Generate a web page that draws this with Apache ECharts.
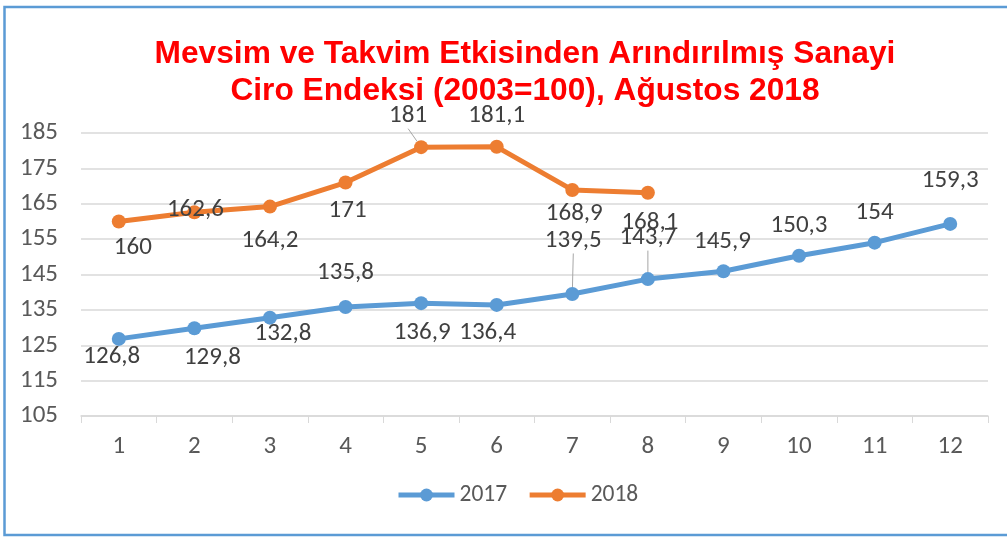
<!DOCTYPE html>
<html>
<head>
<meta charset="utf-8">
<script src="https://cdn.jsdelivr.net/npm/echarts@6/dist/echarts.min.js"></script>
<style>
  html, body { margin: 0; padding: 0; background: #fff; }
  #chart { width: 1007px; height: 537px; }
</style>
</head>
<body>
<div id="chart"></div>
<script>
var chartDom = document.getElementById('chart');
var myChart = echarts.init(chartDom);

// veriler
const months = ['1', '2', '3', '4', '5', '6', '7', '8', '9', '10', '11', '12'];
const values2017 = [126.8, 129.8, 132.8, 135.8, 136.9, 136.4, 139.5, 143.7, 145.9, 150.3, 154, 159.3];
const values2018 = [160, 162.6, 164.2, 171, 181, 181.1, 168.9, 168.1];

// etiket kaydırmaları (noktaya göre)
const shift2017 = [[-7, 18], [18, 29], [13, 16], [0, -34], [1, 30], [-9, 28], [1, -53], [0, -41], [-1, -30], [0, -30], [0, -30], [0, -43]];
const shift2018 = [[14, 26], [1, -2], [0, 34], [2, 28], [-13, -31], [0, -31], [2, 24], [2, 30]];
const leader2017 = [6, 7];
const leader2018 = [4];

var uiFont = 'Calibri, Carlito, Lato, sans-serif';

function fmt(v) {
    return String(v).replace('.', ',');
}

function makeData(vals, leaders) {
    return vals.map(function (v, i) {
        return {
            value: v,
            labelLine: { show: leaders.indexOf(i) >= 0, lineStyle: { color: '#a6a6a6', width: 1 } }
        };
    });
}

function makeLayout(shifts) {
    return function (params) {
        var s = shifts[params.dataIndex];
        return { dx: s[0], dy: s[1] };
    };
}

var labelStyle = {
    show: true,
    position: 'inside',
    fontSize: 25,
    color: '#404040',
    fontFamily: uiFont,
    formatter: function (p) { return fmt(p.value); }
};

option = {
    animation: false,
    title: {
        text: 'Mevsim ve Takvim Etkisinden Arındırılmış Sanayi\nCiro Endeksi (2003=100), Ağustos 2018',
        left: 520,
        textAlign: 'center',
        top: 31,
        textStyle: {
            color: '#ff0000',
            fontSize: 31.7,
            fontWeight: 'bold',
            fontFamily: 'Arial, "Liberation Sans", sans-serif',
            lineHeight: 37
        }
    },
    graphic: [{
        type: 'rect',
        shape: { x: 4.5, y: 7, width: 1010, height: 528 },
        style: { fill: 'none', stroke: '#5b9bd5', lineWidth: 2.5 },
        silent: true
    }],
    legend: {
        bottom: 25,
        left: 391,
        itemWidth: 56,
        itemHeight: 16,
        itemGap: 20,
        lineStyle: { width: 5 },
        textStyle: { fontSize: 23.5, color: '#595959', fontFamily: uiFont },
        data: ['2017', '2018']
    },
    grid: { left: 81, right: 19, top: 133, bottom: 121 },
    xAxis: {
        type: 'category',
        data: months,
        boundaryGap: true,
        axisLine: { lineStyle: { color: '#d9d9d9', width: 1.5 } },
        axisTick: { show: true, length: 7, lineStyle: { color: '#d9d9d9' } },
        axisLabel: { fontSize: 25, color: '#595959', margin: 18, fontFamily: uiFont }
    },
    yAxis: {
        type: 'value',
        min: 105,
        max: 185,
        interval: 10,
        axisLine: { show: false },
        axisTick: { show: false },
        splitLine: { lineStyle: { color: '#d9d9d9', width: 1.5 } },
        axisLabel: { fontSize: 25, color: '#595959', margin: 23, fontFamily: uiFont }
    },
    series: [
        {
            name: '2017',
            type: 'line',
            data: makeData(values2017, leader2017),
            symbol: 'circle',
            symbolSize: 14,
            lineStyle: { width: 5, color: '#5b9bd5' },
            itemStyle: { color: '#5b9bd5' },
            label: labelStyle,
            labelLayout: makeLayout(shift2017)
        },
        {
            name: '2018',
            type: 'line',
            data: makeData(values2018, leader2018),
            symbol: 'circle',
            symbolSize: 14,
            lineStyle: { width: 5, color: '#ed7d31' },
            itemStyle: { color: '#ed7d31' },
            label: labelStyle,
            labelLayout: makeLayout(shift2018)
        }
    ]
};

option && myChart.setOption(option);
</script>
</body>
</html>
